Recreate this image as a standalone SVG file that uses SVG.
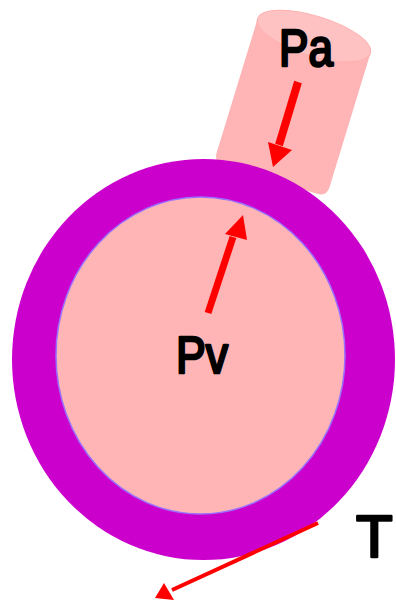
<svg xmlns="http://www.w3.org/2000/svg" width="396" height="600" viewBox="0 0 396 600">
  <defs>
    <style>
      .label { font-family: "Comic Sans MS", "Liberation Sans", "DejaVu Sans", sans-serif; font-weight: normal; fill: #000; stroke: #000; stroke-width: 2.6; stroke-linejoin: round; stroke-linecap: round; }
      .flow { stroke: #FF0000; fill: none; stroke-linecap: butt; }
      .head { fill: #FF0000; }
    </style>
  </defs>
  <rect width="396" height="600" fill="#FFFFFF"/>

  <!-- Artery tube entering the vessel -->
  <g id="artery" transform="translate(314,36) rotate(17)">
    <path d="M-59,0 L-59,140 Q-59,150 -49,150 L49,150 Q59,150 59,140 L59,0 Z" fill="#FFB5B5"/>
    <ellipse cx="0" cy="0" rx="59" ry="20" fill="#FFC2C2" stroke="#FFB0B0" stroke-width="1"/>
  </g>

  <!-- Vessel: muscular wall ring with lumen -->
  <g id="vessel">
    <ellipse cx="203.5" cy="359.5" rx="191.5" ry="200.5" fill="#CC00CC"/>
    <ellipse cx="200.5" cy="355.5" rx="144.5" ry="158.5" fill="#FFB5B5" stroke="#9A70FF" stroke-width="1.5"/>
  </g>

  <!-- Force arrows -->
  <g id="connectors">
    <line class="flow" x1="298" y1="82" x2="279" y2="145" stroke-width="8"/>
    <polygon class="head" points="268,142 292,150 273,167"/>
    <line class="flow" x1="208" y1="313" x2="233" y2="237" stroke-width="7"/>
    <polygon class="head" points="225,234 247,240 243,215"/>
    <line class="flow" x1="318" y1="523" x2="172" y2="590" stroke-width="4"/>
    <polygon class="head" points="164,583 174,600 155,598"/>
  </g>

  <!-- Labels -->
  <g id="label-pa"><text class="label" x="279" y="66" font-size="51" textLength="54" lengthAdjust="spacingAndGlyphs">Pa</text></g>
  <g id="label-pv"><text class="label" x="176" y="373" font-size="51" textLength="52" lengthAdjust="spacingAndGlyphs">Pv</text></g>
  <g id="label-t"><text class="label" x="356" y="557" font-size="60">T</text></g>
</svg>
